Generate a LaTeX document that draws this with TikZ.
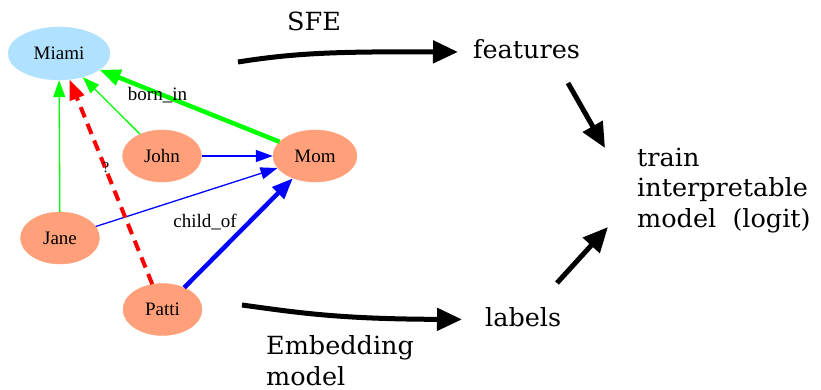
\documentclass[tikz,border=0pt]{standalone}
\usepackage{fontspec}
\usetikzlibrary{shapes.geometric,arrows.meta}
\newfontfamily\gvfont{Liberation Serif}
\newfontfamily\bigfont{DejaVu Serif}[FakeStretch=1.02]
\definecolor{cityfill}{HTML}{B0E2FF}
\definecolor{personfill}{HTML}{FFA07A}
\definecolor{bornedge}{HTML}{00FF00}
\definecolor{childedge}{HTML}{0000FF}
\definecolor{queryedge}{HTML}{FF0000}
\tikzset{
  person/.style={ellipse, fill=personfill, draw=personfill, minimum width=79pt,
    minimum height=52pt, inner sep=0pt, font=\gvfont\fontsize{19}{19}\selectfont},
  city/.style={person, fill=cityfill, draw=cityfill, minimum width=102pt, minimum height=53pt},
  rellabel/.style={inner sep=0pt, font=\gvfont\fontsize{19}{19}\selectfont},
  lightedge/.style={line width=1.3pt, -{Triangle[length=17pt,width=12pt]}},
  heavyedge/.style={line width=4.5pt, -{Triangle[length=21pt,width=16pt]}},
  queryline/.style={draw=queryedge, line width=4pt, dash pattern=on 11pt off 7pt,
    -{Triangle[length=20pt,width=15pt]}, queryedge},
  bigtext/.style={font=\bigfont\fontsize{25}{30.5}\selectfont, inner sep=0pt,
    text height=19pt, text depth=6pt},
  bigblock/.style={font=\bigfont\fontsize{25}{30.5}\selectfont, inner sep=0pt, align=left},
  flow/.style={line width=5pt, -{Triangle[length=25pt,width=22pt]}}
}
\begin{document}
\begin{tikzpicture}[x=1pt,y=-1pt]
\useasboundingbox (0,0) rectangle (821,390);

% knowledge-graph entities
\node[city]   (miami) at (59,53.5)    {Miami};
\node[person] (john)  at (162,156)    {John};
\node[person, minimum width=84pt] (mom) at (315,156) {Mom};
\node[person] (jane)  at (60,238)     {Jane};
\node[person] (patti) at (162.5,309.5) {Patti};

% born_in relations
\draw[lightedge, bornedge] (jane) -- (miami);
\draw[lightedge, bornedge] (john) -- (miami);
\draw[heavyedge, bornedge] (mom) -- (miami);

% child_of relations
\draw[lightedge, childedge] (john) -- (mom);
\draw[lightedge, childedge] (jane) -- (mom);
\draw[heavyedge, childedge] (patti) -- (mom);

% the unknown fact being explained
\draw[queryline] (patti) -- (miami);

% relation labels
\node[rellabel] (bornin)  at (157.5,95) {born\_in};
\node[rellabel] (childof) at (205,222)  {child\_of};
\node[rellabel, font=\gvfont\fontsize{15}{15}\selectfont] (unknown) at (106,168) {?};

% pipeline text (multi-line blocks are anchored at their last baseline)
\node[bigtext, anchor=base west] (sfe)      at (287,31)    {SFE};
\node[bigtext, anchor=base west] (features) at (473,58.5)  {features};
\node[bigtext, anchor=base west] (labels)   at (485,326)   {labels};
\node[bigblock, anchor=base west] (train)   at (637,227)   {train\\interpretable\\model\ \ (logit)};
\node[bigblock, anchor=base west] (embed)   at (266,385)   {Embedding\\model};

% pipeline arrows
\coordinate (sfeFrom)   at (238,62);
\coordinate (embedFrom) at (242,305);
\coordinate (featOut)   at (568,83);
\coordinate (trainTop)  at (605,148);
\coordinate (labelOut)  at (557,283);
\coordinate (trainBot)  at (608,227);

\draw[flow, shorten >=15pt] (sfeFrom) .. controls (295,53) and (335,51.5) .. (features.west);
\draw[flow, shorten >=23pt] (embedFrom) .. controls (300,313) and (340,319) .. (labels.west);
\draw[flow] (featOut) -- (trainTop);
\draw[flow] (labelOut) -- (trainBot);
\end{tikzpicture}
\end{document}
